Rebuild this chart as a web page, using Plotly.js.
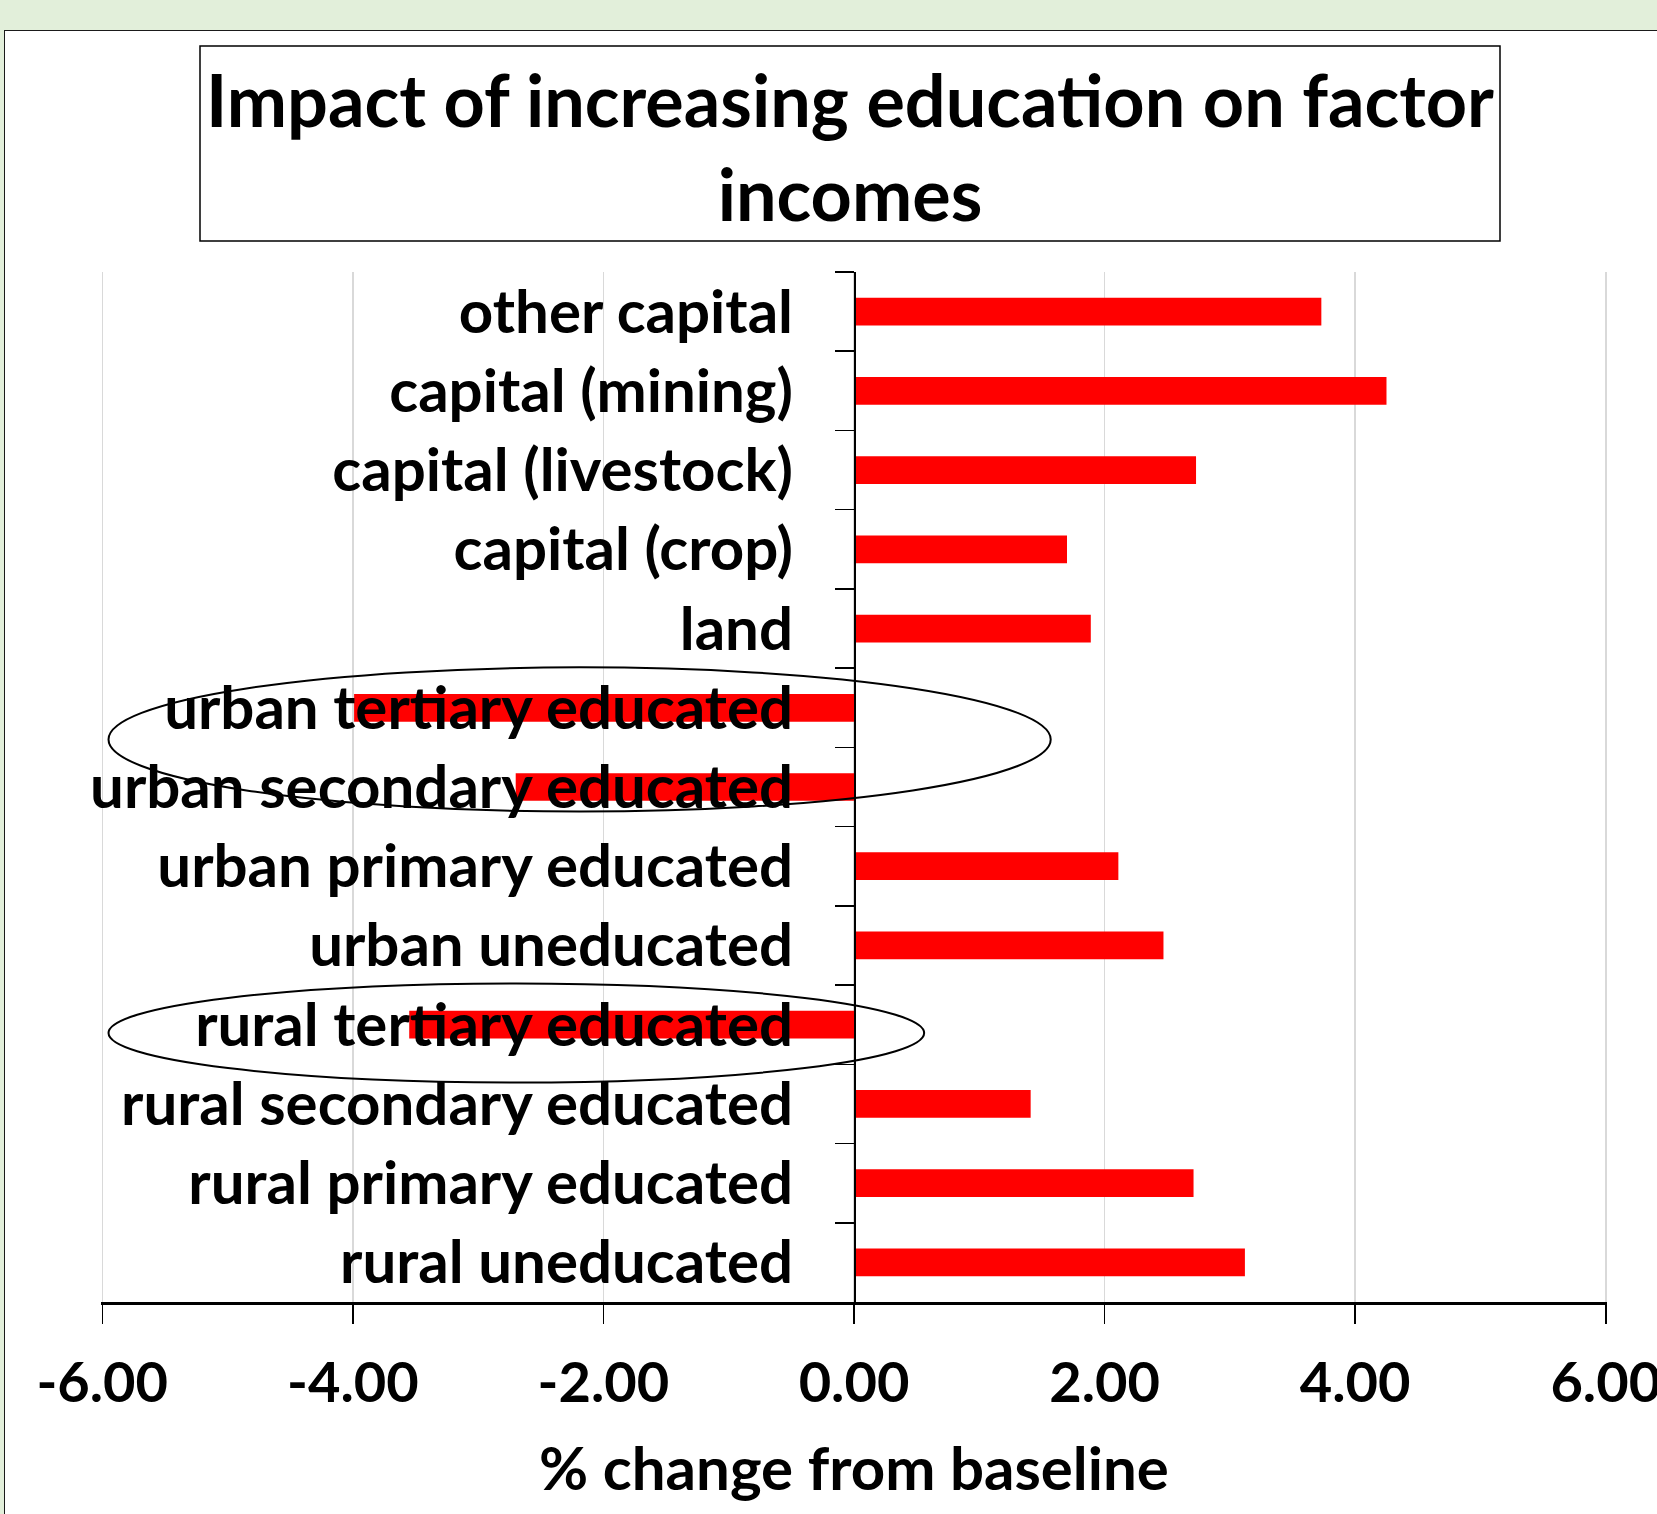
<!DOCTYPE html>
<html>
<head>
<meta charset="utf-8">
<script src="https://cdn.plot.ly/plotly-3.0.1.min.js"></script>
<style>
  html, body { margin: 0; padding: 0; background: #E2EFDA; overflow: hidden; }
  #frame {
    position: absolute; left: 4px; top: 30px; width: 1720px; height: 1600px;
    background: #ffffff; border: 1.5px solid #1a1a1a; box-sizing: border-box;
  }
  #chart { position: absolute; left: 0; top: 0; width: 1657px; height: 1514px; }
</style>
</head>
<body>
<div id="frame"></div>
<div id="chart"></div>
<script>
// Factor income categories, listed top to bottom
const categories = [
  'other capital',
  'capital (mining)',
  'capital (livestock)',
  'capital (crop)',
  'land',
  'urban tertiary educated',
  'urban secondary educated',
  'urban primary educated',
  'urban uneducated',
  'rural tertiary educated',
  'rural secondary educated',
  'rural primary educated',
  'rural uneducated'
];

// % change in factor income from baseline
const pctChange = [3.73, 4.25, 2.73, 1.70, 1.89, -3.99, -2.70, 2.11, 2.47, -3.55, 1.41, 2.71, 3.12];

// x-axis ticks
const tickVals = [-6, -4, -2, 0, 2, 4, 6];
const tickText = ['-6.00', '-4.00', '-2.00', '0.00', '2.00', '4.00', '6.00'];

const W = 1657, H = 1514;
const M = { l: 101, r: 50, t: 272, b: 212 };
const plotW = W - M.l - M.r, plotH = H - M.t - M.b;
const px2paperX = px => (px - M.l) / plotW;
const px2paperY = py => 1 - (py - M.t) / plotH;

const FONT = 'Lato, "Open Sans", sans-serif';

const trace = {
  type: 'bar',
  orientation: 'h',
  x: pctChange,
  y: categories,
  marker: { color: '#FF0000', line: { width: 0 } },
  hoverinfo: 'none'
};

const layout = {
  width: W,
  height: H,
  margin: M,
  paper_bgcolor: 'rgba(0,0,0,0)',
  plot_bgcolor: 'rgba(0,0,0,0)',
  showlegend: false,
  bargap: 0.65,
  title: {
    text: 'Impact of increasing education on factor<br>incomes',
    font: { family: FONT, size: 72, weight: 700, color: '#000' },
    xref: 'container', x: 850 / W, xanchor: 'center',
    yref: 'container', y: 1 - 127 / H, yanchor: 'top'
  },
  xaxis: {
    range: [-6.01, 6.01],
    tickmode: 'array',
    tickvals: tickVals,
    ticktext: tickText,
    showgrid: true,
    gridcolor: '#d9d9d9',
    gridwidth: 1.5,
    zeroline: false,
    showline: true,
    linecolor: '#000',
    linewidth: 2.5,
    ticks: 'outside',
    ticklen: 19,
    tickwidth: 1.5,
    tickcolor: '#000',
    ticklabelstandoff: 11,
    ticklabeloverflow: 'allow',
    tickfont: { family: FONT, size: 56, weight: 700, color: '#000' },
    title: {
      text: '% change from baseline',
      font: { family: FONT, size: 60, weight: 700, color: '#000' },
      standoff: 36
    },
    automargin: false,
    fixedrange: true
  },
  yaxis: {
    type: 'category',
    range: [12.5, -0.5],
    anchor: 'free',
    position: 0.5,
    showline: true,
    linecolor: '#000',
    linewidth: 1.5,
    ticks: 'outside',
    tickson: 'boundaries',
    ticklen: 19,
    tickwidth: 1.5,
    tickcolor: '#000',
    ticklabelstandoff: 49,
    ticklabeloverflow: 'allow',
    showgrid: false,
    zeroline: false,
    tickfont: { family: FONT, size: 60, weight: 700, color: '#000' },
    automargin: false,
    fixedrange: true
  },
  shapes: [
    // frame round the title
    {
      type: 'rect', xref: 'paper', yref: 'paper', layer: 'above',
      x0: px2paperX(200), x1: px2paperX(1500),
      y0: px2paperY(241), y1: px2paperY(46),
      line: { color: '#000', width: 1.5 }, fillcolor: 'rgba(0,0,0,0)'
    },
    // ring round the urban tertiary / secondary bars
    {
      type: 'circle', xref: 'x', yref: 'y', layer: 'above',
      x0: -5.95, x1: 1.57, y0: 4.49, y1: 6.31,
      line: { color: '#000', width: 2 }, fillcolor: 'rgba(0,0,0,0)'
    },
    // ring round the rural tertiary bar
    {
      type: 'circle', xref: 'x', yref: 'y', layer: 'above',
      x0: -5.95, x1: 0.56, y0: 8.48, y1: 9.73,
      line: { color: '#000', width: 2 }, fillcolor: 'rgba(0,0,0,0)'
    }
  ]
};

Plotly.newPlot('chart', [trace], layout, { staticPlot: true, displayModeBar: false });
</script>
</body>
</html>
